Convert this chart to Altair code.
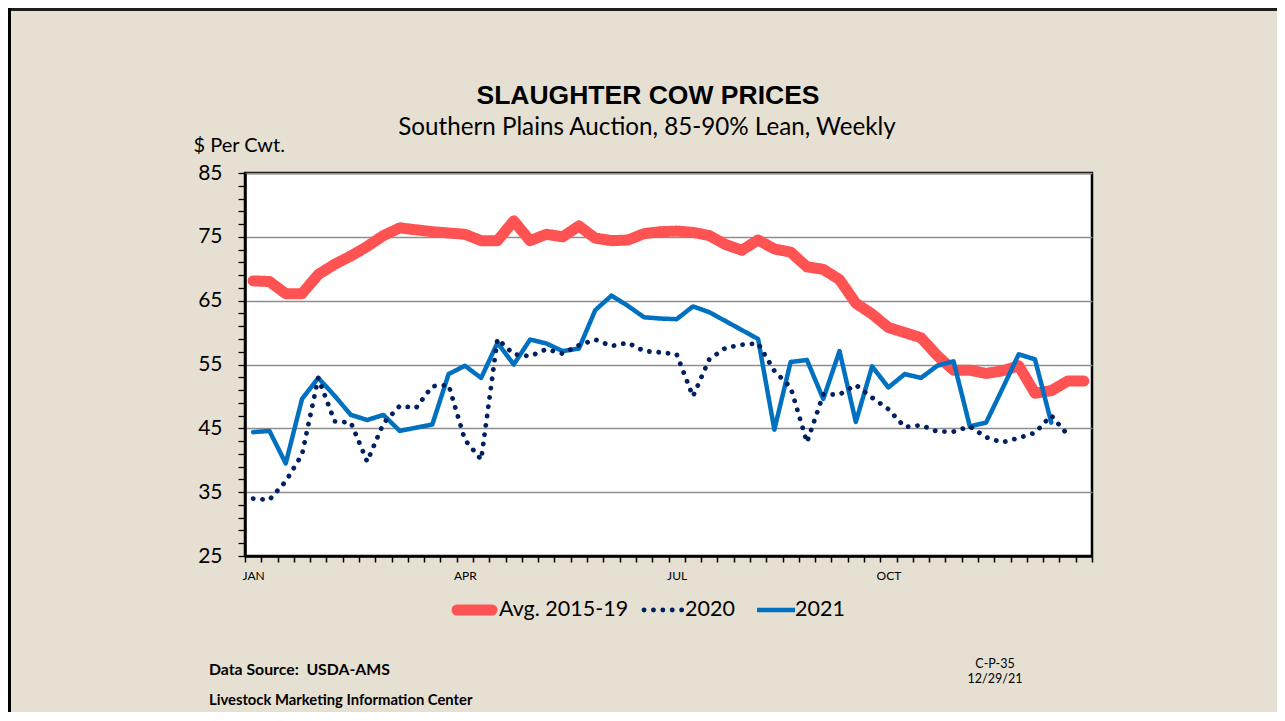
import altair as alt
import pandas as pd

# ---------------- data ----------------
series_names = ["Avg. 2015-19", "2020", "2021"]
series_colors = ["#FF5353", "#002060", "#0070C0"]

avg_2015_19 = [68.1, 68.0, 66.1, 66.1, 69.1, 70.7, 72.0, 73.5, 75.2, 76.4,
               76.1, 75.8, 75.6, 75.4, 74.4, 74.4, 77.5, 74.4, 75.4, 75.0,
               76.7, 74.8, 74.4, 74.5, 75.5, 75.8, 75.9, 75.7, 75.2, 73.8,
               72.9, 74.5, 73.1, 72.6, 70.3, 69.9, 68.3, 64.6, 62.9, 60.8,
               60.0, 59.2, 56.4, 54.1, 54.1, 53.6, 54.0, 54.8, 50.5, 50.9,
               52.4, 52.4]
y2020 = [34.0, 33.8, 36.7, 40.9, 52.9, 46.1, 45.9, 39.8, 45.8, 48.5,
         48.2, 51.6, 51.8, 43.2, 40.1, 59.0, 56.6, 56.3, 57.4, 56.7,
         58.0, 58.9, 57.9, 58.4, 57.1, 56.9, 56.6, 50.0, 55.8, 57.6,
         58.1, 58.3, 54.0, 51.4, 42.8, 50.3, 50.3, 51.8, 49.8, 48.0,
         45.2, 45.5, 44.5, 44.5, 45.3, 43.6, 42.8, 43.5, 44.3, 47.0,
         44.0]
y2021 = [44.4, 44.6, 39.5, 49.6, 52.9, 50.1, 47.1, 46.3, 47.1, 44.6,
         45.1, 45.6, 53.5, 54.8, 52.9, 58.4, 55.0, 58.9, 58.3, 57.1,
         57.5, 63.5, 65.8, 64.2, 62.4, 62.2, 62.1, 64.1, 63.2, 61.8,
         60.4, 59.0, 44.8, 55.4, 55.7, 49.6, 57.1, 46.0, 54.7, 51.4,
         53.5, 52.9, 54.8, 55.5, 45.3, 45.9, 51.2, 56.6, 55.8, 45.9]

month_labels = ["JAN", "APR", "JUL", "OCT"]
month_weeks = [0, 13, 26, 39]
n_weeks = 52

y_ticks = list(range(25, 86, 2))

title_text = "SLAUGHTER COW PRICES"
subtitle_text = "Southern Plains Auction, 85-90% Lean, Weekly"
source_text = "Data Source:\u00a0 USDA-AMS"
center_text = "Livestock Marketing Information Center"
code_text = "C-P-35"
date_text = "12/29/21"

rows = []
for name, vals in zip(series_names, [avg_2015_19, y2020, y2021]):
    for i, v in enumerate(vals):
        rows.append({"week": i, "price": v, "series": name})
df = pd.DataFrame(rows)

# ---------------- layout ----------------
PW, PH = 847, 383
FONT = "Lato"
BG = "#E6E0D3"
widths = {"Avg. 2015-19": 11, "2020": 4.8, "2021": 4.5}
dashes = {"Avg. 2015-19": [1, 0], "2020": [0.1, 9.3], "2021": [1, 0]}
colors = dict(zip(series_names, series_colors))

week_bounds = [i - 0.5 for i in range(n_weeks + 1)]
label_expr = " : ".join(
    f"datum.value == {w} ? '{m}'" for m, w in zip(month_labels, month_weeks)
) + " : ''"

x_enc = alt.X(
    "week:Q",
    scale=alt.Scale(domain=[-0.5, n_weeks - 0.5], nice=False, zero=False),
    axis=alt.Axis(
        values=week_bounds + month_weeks,
        labelExpr=label_expr,
        title=None,
        grid=False,
        tickSize=6,
        tickWidth=1.5,
        tickColor="black",
        tickOpacity={"condition": {"test": "datum.value % 1 == 0", "value": 0}, "value": 1},
        domainColor="black",
        domainWidth=2.5,
        labelFont=FONT,
        labelFontSize=12,
        labelColor="black",
        labelPadding=8,
        labelOverlap=False,
        labelFlush=False,
        labelBound=False,
    ),
)
y_enc = alt.Y(
    "price:Q",
    scale=alt.Scale(domain=[25, 85], nice=False, zero=False),
    axis=alt.Axis(
        values=y_ticks,
        labelExpr="datum.value % 10 == 5 ? datum.label : ''",
        title="$ Per Cwt.",
        titleAngle=0,
        titleAlign="left",
        titleBaseline="middle",
        titleX=-52,
        titleY=-28,
        titleFont=FONT,
        titleFontSize=20,
        titleFontWeight="normal",
        titleColor="black",
        grid=True,
        gridColor="#8E8E8E",
        gridWidth=1.3,
        gridOpacity={"condition": {"test": "datum.value % 10 == 5", "value": 1}, "value": 0},
        tickSize=7,
        tickWidth=1.3,
        tickColor="black",
        domainColor="black",
        domainWidth=2.5,
        labelFont=FONT,
        labelFontSize=21,
        labelColor="black",
        labelPadding=16,
        labelOverlap=False,
    ),
)

color_enc = alt.Color(
    "series:N",
    scale=alt.Scale(domain=series_names, range=series_colors),
    legend=None,
)

base = alt.Chart(df).encode(x=x_enc, y=y_enc, color=color_enc)

layers = []
for name in ["Avg. 2015-19", "2021", "2020"]:
    layers.append(
        base.transform_filter(alt.datum.series == name)
        .mark_line(strokeCap="round", strokeJoin="round",
                   strokeWidth=widths[name], strokeDash=dashes[name])
    )

# ---------------- manual legend (below the plot) ----------------
legend_layers = []
legend_sym = {  # symbol start/end and label start, px relative to plot origin
    "Avg. 2015-19": (212, 247, 254),
    "2020": (399, 440, 440),
    "2021": (512, 550, 550),
}
LEG_Y = 437
one = pd.DataFrame({"a": [0]})
for name in series_names:
    x0, x1, xt = legend_sym[name]
    legend_layers.append(
        alt.Chart(one).mark_rule(
            color=colors[name], strokeWidth=widths[name], strokeDash=dashes[name],
            strokeCap="round" if name != "2021" else "butt",
        ).encode(x=alt.value(x0), x2=alt.value(x1), y=alt.value(LEG_Y))
    )
    legend_layers.append(
        alt.Chart(pd.DataFrame({"t": [name]})).mark_text(
            font=FONT, fontSize=21.5, align="left", baseline="middle", color="black"
        ).encode(text="t:N", x=alt.value(xt), y=alt.value(LEG_Y))
    )

# frame lines of the slide
frame_top = alt.Chart(one).mark_rule(color="#1E1E1E", strokeWidth=3).encode(
    x=alt.value(-237), x2=alt.value(1040), y=alt.value(-163.5))
frame_left = alt.Chart(one).mark_rule(color="black", strokeWidth=3).encode(
    x=alt.value(-235.5), y=alt.value(-165), y2=alt.value(545))


def note(txt, x, y, size, weight="bold", align="left", font=FONT,
         baseline="middle"):
    return alt.Chart(pd.DataFrame({"t": [txt]})).mark_text(
        font=font, fontSize=size, fontWeight=weight, align=align,
        baseline=baseline, color="black"
    ).encode(text="t:N", x=alt.value(x), y=alt.value(y))


notes = [
    note(title_text, 403, -69, 26.5, font="Liberation Sans", align="center",
         baseline="alphabetic"),
    note(subtitle_text, 402, -38, 24.2, weight="normal", align="center",
         baseline="alphabetic"),
    note(source_text, -36, 497, 15.8),
    note(center_text, -36, 528, 14.8),
    note(code_text, 750, 491, 12.5, weight="normal", align="center"),
    note(date_text, 750, 506, 12.5, weight="normal", align="center"),
]

chart = alt.layer(*layers, *legend_layers, frame_top, frame_left, *notes).properties(
    width=PW,
    height=PH,
    autosize=alt.AutoSizeParams(type="none"),
    padding={"left": 237, "top": 165, "right": 185, "bottom": 156},
    background=BG,
).configure_view(
    fill="white", stroke="black", strokeWidth=2.5
)

chart.save("out.html", embed_options={"renderer": "svg", "actions": False})
